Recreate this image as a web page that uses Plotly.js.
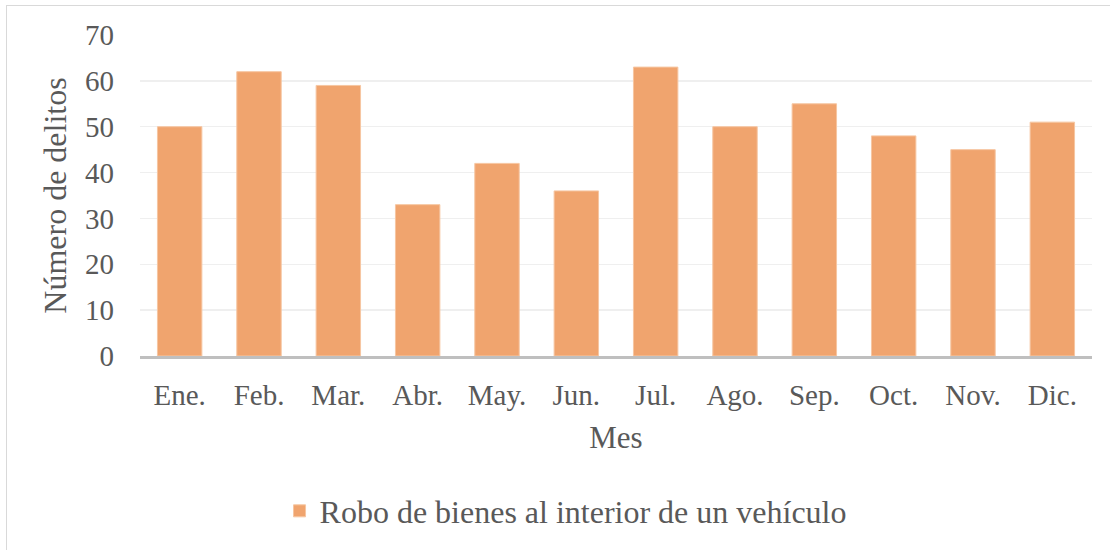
<!DOCTYPE html>
<html>
<head>
<meta charset="utf-8">
<script src="https://cdn.plot.ly/plotly-3.0.1.min.js"></script>
<style>
html,body{margin:0;padding:0;background:#fff;}
#wrap{position:relative;width:1110px;height:550px;overflow:hidden;}
#chart{position:absolute;left:0;top:0;width:1110px;height:550px;}
#frame{position:absolute;left:6px;top:5px;width:1200px;height:700px;border-left:1.5px solid #d9d9d9;border-top:1.5px solid #d9d9d9;pointer-events:none;}
</style>
</head>
<body>
<div id="wrap"><div id="chart"></div><div id="frame"></div></div>
<script>
const months = ["Ene.", "Feb.", "Mar.", "Abr.", "May.", "Jun.", "Jul.", "Ago.", "Sep.", "Oct.", "Nov.", "Dic."];
const robos = [50, 62, 59, 33, 42, 36, 63, 50, 55, 48, 45, 51];
const seriesName = "Robo de bienes al interior de un vehículo";
const yTicks = [0, 10, 20, 30, 40, 50, 60, 70];

const font = "'Liberation Serif', 'Times New Roman', serif";
const txt = "#595959";

Plotly.newPlot("chart", [{
  type: "bar",
  x: months,
  y: robos,
  name: seriesName,
  showlegend: true,
  marker: {color: "#f0a46e", line: {color: "#f6c6a2", width: 1}}
}], {
  width: 1110, height: 550,
  margin: {l: 140, r: 18, t: 35, b: 192},
  paper_bgcolor: "rgba(0,0,0,0)",
  plot_bgcolor: "#fff",
  bargap: 0.44,
  font: {family: font, color: txt, size: 29},
  xaxis: {
    type: "category",
    showgrid: false,
    showline: true, linecolor: "#bfbfbf", linewidth: 2.5,
    ticks: "", ticklabelstandoff: 12,
    tickfont: {family: font, size: 29, color: txt},
    title: {text: "Mes", font: {family: font, size: 31, color: txt}, standoff: 16}
  },
  yaxis: {
    range: [0, 70],
    tickvals: yTicks,
    showgrid: true, gridcolor: "#efefef", gridwidth: 1.5,
    zeroline: false, showline: false,
    ticks: "", ticklabelstandoff: 25,
    tickfont: {family: font, size: 29, color: txt},
    title: {text: "Número de delitos", font: {family: font, size: 32, color: txt}, standoff: 8}
  },
  legend: {
    orientation: "h",
    x: 0.447, xanchor: "center",
    y: -0.483, yanchor: "middle",
    font: {family: font, size: 32, color: txt},
    itemwidth: 30
  }
}, {displayModeBar: false, staticPlot: true});
</script>
</body>
</html>
